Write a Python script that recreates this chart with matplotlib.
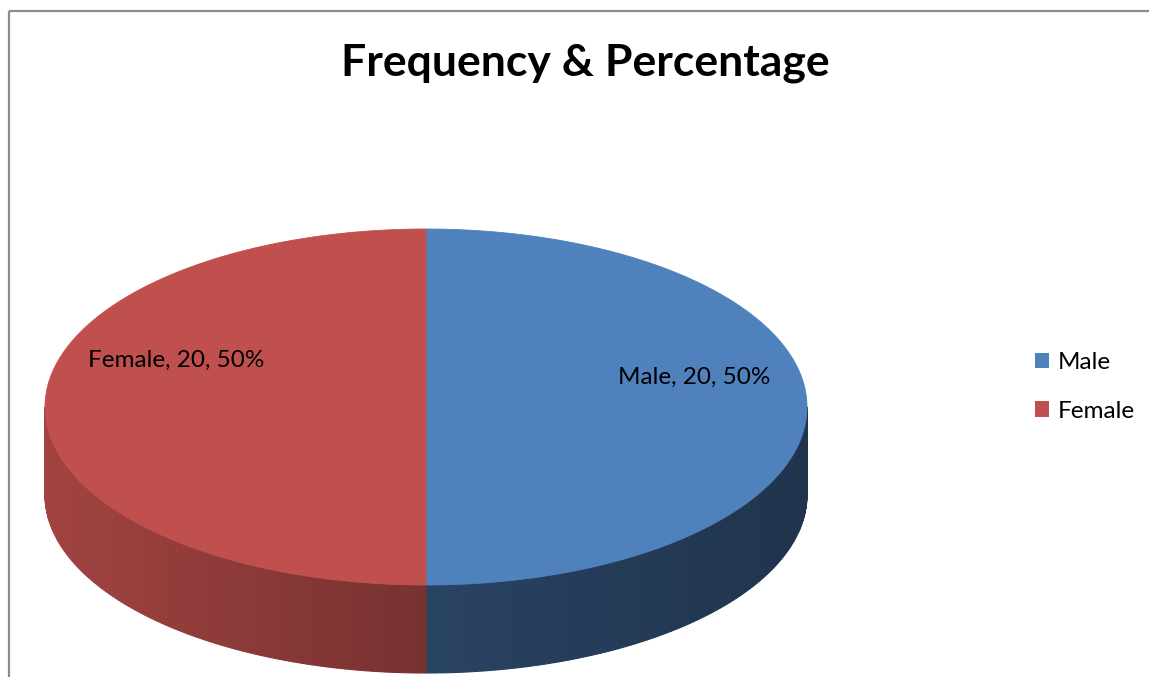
import matplotlib.pyplot as plt
from matplotlib.patches import Polygon, Patch, Rectangle
import numpy as np

# данные диаграммы
categories = ['Male', 'Female']
counts = [20, 20]
colors = ['#4f81bd', '#c0504d']
title = 'Frequency & Percentage'

plt.rcParams['font.family'] = ['Lato', 'DejaVu Sans']

fig = plt.figure(figsize=(11.49, 6.77), dpi=100)
ax = fig.add_axes([0, 0, 1, 1])
ax.set_xlim(0, 1149)
ax.set_ylim(677, 0)
ax.axis('off')

# рамка области диаграммы
ax.add_patch(Rectangle((9, 11), 1200, 700, fill=False, edgecolor='#8c8c8c', lw=1.6))

# геометрия "3D" круга (в пикселях)
cx, cy, rx, ry, depth = 426, 407, 381, 178, 88
# затенение боковой стенки: коэффициенты у левого и правого края
side_shade = {'Male': (0.52, 0.40), 'Female': (0.84, 0.62)}


def pt(t, dy=0.0):
    return cx + rx * np.sin(t), cy - ry * np.cos(t) + dy


total = sum(counts)
angles = np.cumsum([0] + counts) / total * 2 * np.pi
# боковые стенки (только передняя половина видна)
for i, name in enumerate(categories):
    a0, a1 = angles[i], angles[i + 1]
    s0, s1 = max(a0, np.pi / 2), min(a1, 3 * np.pi / 2)
    if s1 <= s0:
        continue
    ts = np.linspace(s0, s1, 120)
    base = np.array(plt.matplotlib.colors.to_rgb(colors[i]))
    xs = np.sin(ts)
    xmin, xmax = xs.min(), xs.max()
    for k in range(len(ts) - 1):
        t1, t2 = ts[k], ts[k + 1]
        xm = (np.sin(t1) + np.sin(t2)) / 2
        fr = (xm - xmin) / (xmax - xmin) if xmax > xmin else 0
        f = side_shade[name][0] + (side_shade[name][1] - side_shade[name][0]) * fr
        c = np.clip(base * f, 0, 1)
        p = [pt(t1), pt(t2), pt(t2, depth), pt(t1, depth)]
        ax.add_patch(Polygon(p, closed=True, facecolor=c, edgecolor=c, lw=0.8))

# верхняя грань
for i, name in enumerate(categories):
    ts = np.linspace(angles[i], angles[i + 1], 300)
    p = [(cx, cy)] + [pt(t) for t in ts]
    ax.add_patch(Polygon(p, closed=True, facecolor=colors[i], edgecolor=colors[i], lw=0.6))

# подписи долей
label_pos = [(694, 377), (176, 360)]
for i, name in enumerate(categories):
    pct = counts[i] / total * 100
    ax.text(label_pos[i][0], label_pos[i][1], f'{name}, {counts[i]}, {pct:.0f}%',
            ha='center', va='center', fontsize=17.5, color='black')

ax.text(585, 63, title, ha='center', va='center', fontsize=32, fontweight='bold')

handles = [Patch(facecolor=colors[i], edgecolor='none', label=categories[i]) for i in range(len(categories))]
ax.legend(handles=handles, loc='center left', bbox_to_anchor=(1025 / 1149, 1 - 387 / 677),
          frameon=False, fontsize=17.5, handlelength=0.58, handleheight=0.58,
          handletextpad=0.38, labelspacing=1.12, borderaxespad=0)

plt.savefig('out.png', dpi=100)
plt.close()
